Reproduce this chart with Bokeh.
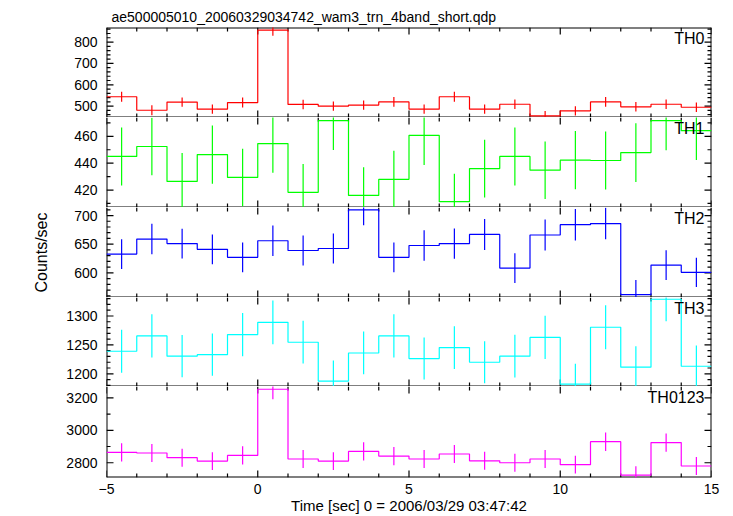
from bokeh.plotting import figure
from bokeh.layouts import column
from bokeh.models import Range1d, FixedTicker, Label
from bokeh.embed import file_html
from bokeh.resources import INLINE

title_text = "ae500005010_20060329034742_wam3_trn_4band_short.qdp"
x_label = "Time [sec] 0 = 2006/03/29 03:47:42"
y_label = "Counts/sec"

time_centers = [-4.5, -3.5, -2.5, -1.5, -0.5, 0.5, 1.5, 2.5, 3.5, 4.5,
                5.5, 6.5, 7.5, 8.5, 9.5, 10.5, 11.5, 12.5, 13.5, 14.5]
bin_half = 0.5
th0 = [544, 481, 519, 486, 517, 856, 508, 500, 505, 520,
       486, 544, 486, 509, 455, 478, 520, 497, 509, 495]
th0_err = [23, 23, 22, 22, 23, 27, 22, 22, 22, 23,
           22, 23, 22, 22, 22, 22, 23, 22, 22, 22]
th1 = [445.0, 452.4, 426.4, 446.4, 429.4, 454.6, 418.3, 471.6, 416.0, 428.0,
       460.7, 411.3, 436.0, 445.0, 434.8, 442.2, 442.0, 447.9, 471.6, 464.2]
th1_err = [21.6, 21.4, 21.2, 21.7, 21.4, 21.7, 21.0, 21.8, 21.0, 21.3,
           22.0, 20.8, 21.5, 21.6, 21.4, 21.7, 21.6, 21.9, 22.0, 21.8]
th2 = [632.7, 659, 651, 641, 627, 656, 639, 642.5, 710, 627,
       647.7, 651, 667, 608.4, 666, 684, 686, 562, 613.6, 601]
th2_err = [26, 26.5, 26, 26, 26, 26.5, 26, 26, 27, 26,
           26.5, 26.5, 27, 26, 27, 27.5, 27.5, 25.5, 26, 25.5]
th3 = [1239, 1265.5, 1230.5, 1233, 1267.8, 1289, 1254.6, 1187.4, 1236, 1265.5,
       1226.4, 1245.4, 1220, 1230.5, 1263, 1182, 1280.5, 1211.5, 1329, 1213]
th3_err = [37, 37.5, 36.5, 36.5, 37.5, 38, 37, 35.5, 37, 37.5,
           36.5, 37, 36.5, 37, 37.5, 35.5, 38, 36, 38, 36]
th0123 = [2864, 2860, 2831, 2810, 2845, 3253, 2823, 2810, 2870, 2841,
          2823, 2854, 2812, 2800, 2823, 2788, 2930, 2724, 2924, 2780]
th0123_err = [56, 56, 55, 55, 56, 62, 55, 55, 56, 56,
              55, 56, 55, 55, 55, 55, 57, 54, 57, 55]

panel_names = ["TH0", "TH1", "TH2", "TH3", "TH0123"]
panel_values = [th0, th1, th2, th3, th0123]
panel_errors = [th0_err, th1_err, th2_err, th3_err, th0123_err]
panel_colors = ["#ff0000", "#00ff00", "#0000ff", "#00ffff", "#ff00ff"]
panel_yranges = [(447, 868), (407, 474), (557, 714), (1178, 1332), (2709, 3270)]
panel_major_ticks = [[500, 600, 700, 800], [420, 440, 460], [600, 650, 700],
                     [1200, 1250, 1300], [2800, 3000, 3200]]
panel_minor_step = [20, 10, 10, 10, 100]
x_range_lim = (-5, 15)
x_major_ticks = [-5, 0, 5, 10, 15]
x_minor_step = 1

FONT = "Liberation Sans"
FIG_W = 725
BORDER_L = 106
BORDER_R = 14
BORDER_TOP = 27
BORDER_BOTTOM = 39
FRAME_W = FIG_W - BORDER_L - BORDER_R
FRAME_H = [90, 90, 90, 89, 91]
MAJOR_PX = 7     # tick lengths in pixels
MINOR_PX = 4
TICK_W_PX = 1.2  # tick thickness in pixels

x_range = Range1d(*x_range_lim)
x_minor = [t for t in range(x_range_lim[0], x_range_lim[1] + 1, x_minor_step)
           if t not in x_major_ticks]
x_span = x_range_lim[1] - x_range_lim[0]


def style_axis(ax):
    ax.axis_line_color = None
    ax.major_tick_line_color = None
    ax.minor_tick_line_color = None
    ax.major_tick_in = 0
    ax.major_tick_out = 0
    ax.minor_tick_in = 0
    ax.minor_tick_out = 0
    ax.major_label_text_font = FONT
    ax.major_label_text_font_size = "14px"
    ax.major_label_text_color = "black"


figs = []
n = len(panel_names)
for i in range(n):
    first = i == 0
    last = i == n - 1
    ylo, yhi = panel_yranges[i]
    y_span = yhi - ylo
    h = FRAME_H[i] + (BORDER_TOP if first else 0) + (BORDER_BOTTOM if last else 0)
    p = figure(width=FIG_W, height=h, x_range=x_range,
               y_range=Range1d(ylo, yhi), output_backend="svg",
               toolbar_location=None,
               min_border_left=BORDER_L, min_border_right=BORDER_R,
               min_border_top=BORDER_TOP if first else 0,
               min_border_bottom=BORDER_BOTTOM if last else 0)
    p.outline_line_color = None
    p.background_fill_color = None
    p.border_fill_color = None
    p.xgrid.visible = False
    p.ygrid.visible = False

    step = panel_minor_step[i]
    y_major = panel_major_ticks[i]
    y_minor = [t for t in range(int((ylo // step + 1) * step), int(yhi) + 1, step)
               if t not in y_major]

    yax = p.yaxis[0]
    yax.ticker = FixedTicker(ticks=y_major, minor_ticks=[])
    style_axis(yax)
    yax.major_label_standoff = 9

    xax = p.xaxis[0]
    if last:
        xax.ticker = FixedTicker(ticks=x_major_ticks, minor_ticks=[])
        style_axis(xax)
        xax.major_label_standoff = 6
        xax.major_label_overrides = {-5: "\u22125"}
        xax.axis_label = x_label
        xax.axis_label_text_font = FONT
        xax.axis_label_text_font_size = "15px"
        xax.axis_label_text_font_style = "normal"
        xax.axis_label_text_color = "black"
        xax.axis_label_standoff = 0
    else:
        xax.visible = False

    # frame lines (width 2, half clipped by the frame -> 1px inside)
    fx0 = [x_range_lim[0], x_range_lim[1], x_range_lim[0]]
    fx1 = [x_range_lim[0], x_range_lim[1], x_range_lim[1]]
    fy0 = [ylo, ylo, ylo]
    fy1 = [yhi, yhi, ylo]
    if first:
        fx0.append(x_range_lim[0]); fx1.append(x_range_lim[1])
        fy0.append(yhi); fy1.append(yhi)
    p.segment(x0=fx0, y0=fy0, x1=fx1, y1=fy1, line_color="black", line_width=2)

    # tick marks pointing inward on all four sides, as thin filled quads
    hw_x = 0.5 * TICK_W_PX * x_span / FRAME_W
    hw_y = 0.5 * TICK_W_PX * y_span / FRAME_H[i]
    ql, qr, qb, qt = [], [], [], []
    for xs, px in ((x_major_ticks, MAJOR_PX), (x_minor, MINOR_PX)):
        dy = px * y_span / FRAME_H[i]
        for t in xs:
            ql += [t - hw_x, t - hw_x]; qr += [t + hw_x, t + hw_x]
            qb += [ylo, yhi - dy]; qt += [ylo + dy, yhi]
    for ys, px in ((y_major, MAJOR_PX), (y_minor, MINOR_PX)):
        dx = px * x_span / FRAME_W
        for t in ys:
            qb += [t - hw_y, t - hw_y]; qt += [t + hw_y, t + hw_y]
            ql += [x_range_lim[0], x_range_lim[1] - dx]
            qr += [x_range_lim[0] + dx, x_range_lim[1]]
    p.quad(left=ql, right=qr, bottom=qb, top=qt, fill_color="black",
           line_color=None)

    vals = panel_values[i]
    errs = panel_errors[i]
    col = panel_colors[i]
    edges = [c - bin_half for c in time_centers] + [time_centers[-1] + bin_half]
    step_y = list(vals) + [vals[-1]]
    p.step(x=edges, y=step_y, mode="after", line_color=col, line_width=1.2)
    p.segment(x0=time_centers, y0=[v - e for v, e in zip(vals, errs)],
              x1=time_centers, y1=[v + e for v, e in zip(vals, errs)],
              line_color=col, line_width=1.2)

    p.add_layout(Label(x=x_range_lim[1], y=yhi, x_offset=-7, y_offset=-2.5,
                       text=panel_names[i], text_align="right",
                       text_baseline="top", text_font=FONT,
                       text_font_size="16px", text_color="black"))
    if i == 2:
        yax.axis_label = y_label
        yax.axis_label_text_font = FONT
        yax.axis_label_text_font_size = "16px"
        yax.axis_label_text_font_style = "normal"
        yax.axis_label_text_color = "black"
        yax.axis_label_standoff = 21
    if first:
        p.title.text = title_text
        p.title.align = "left"
        p.title.offset = 5
        p.title.standoff = 5
        p.title.text_font = FONT
        p.title.text_font_size = "14px"
        p.title.text_font_style = "normal"
        p.title.text_color = "black"
    figs.append(p)

layout = column(*figs, spacing=0)
open("out.html", "w").write(file_html(layout, INLINE))
